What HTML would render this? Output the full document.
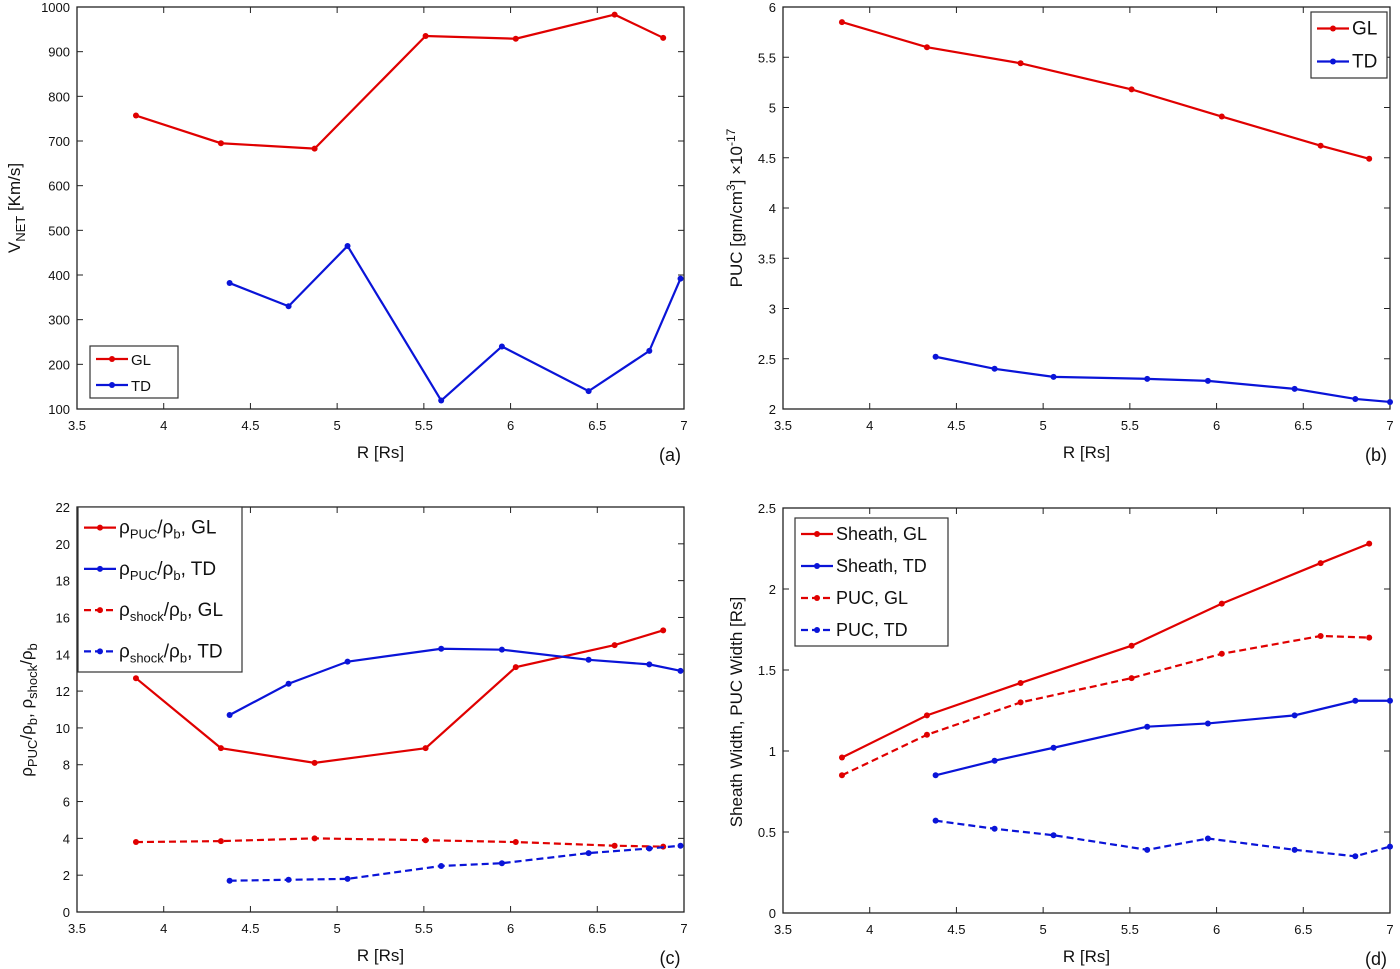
<!DOCTYPE html>
<html><head><meta charset="utf-8"><style>
body{margin:0;background:#fff;}
svg{display:block;font-family:"Liberation Sans",Arial,sans-serif;}
</style></head><body>
<svg id="fig" width="1400" height="969" viewBox="0 0 1400 969"></svg>
<script>
// ---- data ----
const xGL = [3.84, 4.33, 4.87, 5.51, 6.03, 6.6, 6.88];
const xTDa = [4.38, 4.72, 5.06, 5.6, 5.95, 6.45, 6.8, 6.98];
const xTDb = [4.38, 4.72, 5.06, 5.6, 5.95, 6.45, 6.8, 7.0];
const vnetGL = [757, 695, 683, 935, 929, 983, 931];
const vnetTD = [382, 330, 465, 119, 240, 140, 230, 392];
const pucGL = [5.85, 5.6, 5.44, 5.18, 4.91, 4.62, 4.49];
const pucTD = [2.52, 2.4, 2.32, 2.3, 2.28, 2.2, 2.1, 2.07];
const ratioPucGL = [12.7, 8.9, 8.1, 8.9, 13.3, 14.5, 15.3];
const ratioPucTD = [10.7, 12.4, 13.6, 14.3, 14.25, 13.7, 13.45, 13.1];
const ratioShockGL = [3.8, 3.85, 4.0, 3.9, 3.8, 3.6, 3.55];
const ratioShockTD = [1.7, 1.75, 1.8, 2.5, 2.65, 3.2, 3.45, 3.6];
const sheathGL = [0.96, 1.22, 1.42, 1.65, 1.91, 2.16, 2.28];
const sheathTD = [0.85, 0.94, 1.02, 1.15, 1.17, 1.22, 1.31, 1.31];
const widthPucGL = [0.85, 1.1, 1.3, 1.45, 1.6, 1.71, 1.7];
const widthPucTD = [0.57, 0.52, 0.48, 0.39, 0.46, 0.39, 0.35, 0.41];
const xTicks = [3.5, 4, 4.5, 5, 5.5, 6, 6.5, 7];
const yTicksA = [100,200,300,400,500,600,700,800,900,1000];
const yTicksB = [2,2.5,3,3.5,4,4.5,5,5.5,6];
const yTicksC = [0,2,4,6,8,10,12,14,16,18,20,22];
const yTicksD = [0,0.5,1,1.5,2,2.5];

const NS = "http://www.w3.org/2000/svg";
const svg = document.getElementById('fig');
function mk(tag, attrs, parent){const e=document.createElementNS(NS,tag);for(const k in attrs)e.setAttribute(k,attrs[k]);(parent||svg).appendChild(e);return e;}

function panel(id, box, ymin, ymax, yTicks, series){
  const g = mk('g',{});
  
  
  const sx = v => box.l + (v-3.5)/(7-3.5)*(box.r-box.l);
  const sy = v => box.b - (v-ymin)/(ymax-ymin)*(box.b-box.t);
  const ax = mk('rect',{x:box.l,y:box.t,width:box.r-box.l,height:box.b-box.t,fill:'none',stroke:'#222','stroke-width':1.3},g);
  
  
  xTicks.forEach(t=>{
    const x=sx(t);
    mk('line',{x1:x,x2:x,y1:box.b,y2:box.b-6,stroke:'#222'},g);
    mk('line',{x1:x,x2:x,y1:box.t,y2:box.t+6,stroke:'#222'},g);
    const tx=mk('text',{x:x,y:box.b+21,'font-size':13,'text-anchor':'middle',fill:'#111'},g);
    tx.textContent=String(t);
    
    
  });
  yTicks.forEach(t=>{
    const y=sy(t);
    mk('line',{x1:box.l,x2:box.l+6,y1:y,y2:y,stroke:'#222'},g);
    mk('line',{x1:box.r,x2:box.r-6,y1:y,y2:y,stroke:'#222'},g);
    const tx=mk('text',{x:box.l-7,y:y+5,'font-size':13,'text-anchor':'end',fill:'#111'},g);
    tx.textContent=String(t);
    
    
  });
  series.forEach(s=>{
    const pts=s.x.map((xv,i)=>sx(xv)+','+sy(s.y[i])).join(' ');
    const pl=mk('polyline',{points:pts,fill:'none',stroke:s.c,'stroke-width':2.2,'stroke-dasharray':s.dash?'7,4':'none'},g);
    
    
    s.x.forEach((xv,i)=>{
      const c=mk('circle',{cx:sx(xv),cy:sy(s.y[i]),r:3,fill:s.c},g);
      
      
    });
  });
  const xl=mk('text',{x:(box.l+box.r)/2,y:box.b+49,'font-size':17,'text-anchor':'middle',fill:'#111'},g);
  xl.textContent='R [Rs]';
  
  
  const pl=mk('text',{x:box.r-14,y:box.b+52,'font-size':18,'text-anchor':'middle',fill:'#111'},g);
  pl.textContent='('+id+')';
  
  
  return g;
}

function legend(box, items, fs){
  const g=mk('g',{});
  
  
  mk('rect',{x:box.x,y:box.y,width:box.w,height:box.h,fill:'#fff',stroke:'#333','stroke-width':1.2},g);
  const step=box.h/items.length;
  items.forEach((it,i)=>{
    const y=box.y+step*(i+0.5);
    mk('line',{x1:box.x+6,x2:box.x+38,y1:y,y2:y,stroke:it.c,'stroke-width':2.2,'stroke-dasharray':it.dash?'7,4':'none'},g);
    mk('circle',{cx:box.x+22,cy:y,r:3,fill:it.c},g);
    const t=mk('text',{x:box.x+41,y:y+6,'font-size':fs,fill:'#111'},g);
    t.innerHTML=it.t;
    
    
  });
}
function ylabel(x,y,html){
  const t=mk('text',{x:0,y:0,'font-size':17,'text-anchor':'middle',fill:'#111',transform:`translate(${x},${y}) rotate(-90)`});
  t.innerHTML=html;
  
  
}
const R='#e00000', B='#0a14d8';
panel('a',{l:77,r:684,t:7,b:409},100,1000,yTicksA,[
  {n:'gl',x:xGL,y:vnetGL,c:R},{n:'td',x:xTDa,y:vnetTD,c:B}]);
panel('b',{l:783,r:1390,t:7,b:409},2,6,yTicksB,[
  {n:'gl',x:xGL,y:pucGL,c:R},{n:'td',x:xTDb,y:pucTD,c:B}]);
panel('c',{l:77,r:684,t:507,b:912},0,22,yTicksC,[
  {n:'puc-gl',x:xGL,y:ratioPucGL,c:R},{n:'puc-td',x:xTDa,y:ratioPucTD,c:B},
  {n:'shock-gl',x:xGL,y:ratioShockGL,c:R,dash:1},{n:'shock-td',x:xTDa,y:ratioShockTD,c:B,dash:1}]);
panel('d',{l:783,r:1390,t:508,b:913},0,2.5,yTicksD,[
  {n:'sheath-gl',x:xGL,y:sheathGL,c:R},{n:'sheath-td',x:xTDb,y:sheathTD,c:B},
  {n:'puc-gl',x:xGL,y:widthPucGL,c:R,dash:1},{n:'puc-td',x:xTDb,y:widthPucTD,c:B,dash:1}]);

legend({x:90,y:346,w:88,h:52},[{t:'GL',c:R},{t:'TD',c:B}],15);
legend({x:1311,y:12,w:76,h:66},[{t:'GL',c:R},{t:'TD',c:B}],19);
const sub=(a)=>`<tspan dy="5" font-size="13">${a}</tspan><tspan dy="-5">`;
legend({x:78,y:507,w:164,h:165},[
  {t:`ρ${sub('PUC')}/ρ</tspan>${sub('b')}, GL</tspan>`,c:R},
  {t:`ρ${sub('PUC')}/ρ</tspan>${sub('b')}, TD</tspan>`,c:B},
  {t:`ρ${sub('shock')}/ρ</tspan>${sub('b')}, GL</tspan>`,c:R,dash:1},
  {t:`ρ${sub('shock')}/ρ</tspan>${sub('b')}, TD</tspan>`,c:B,dash:1}],19);
legend({x:795,y:518,w:153,h:128},[
  {t:'Sheath, GL',c:R},{t:'Sheath, TD',c:B},{t:'PUC, GL',c:R,dash:1},{t:'PUC, TD',c:B,dash:1}],18);

ylabel(20,208,'V<tspan dy="5" font-size="13">NET</tspan><tspan dy="-5"> [Km/s]</tspan>');
ylabel(742,208,'PUC [gm/cm<tspan dy="-7" font-size="12">3</tspan><tspan dy="7">] ×10</tspan><tspan dy="-7" font-size="12">-17</tspan>');
ylabel(32,710,'ρ<tspan dy="5" font-size="13">PUC</tspan><tspan dy="-5">/ρ</tspan><tspan dy="5" font-size="13">b</tspan><tspan dy="-5">, ρ</tspan><tspan dy="5" font-size="13">shock</tspan><tspan dy="-5">/ρ</tspan><tspan dy="5" font-size="13">b</tspan>');
ylabel(742,712,'Sheath Width, PUC Width [Rs]');
</script>
</body></html>
